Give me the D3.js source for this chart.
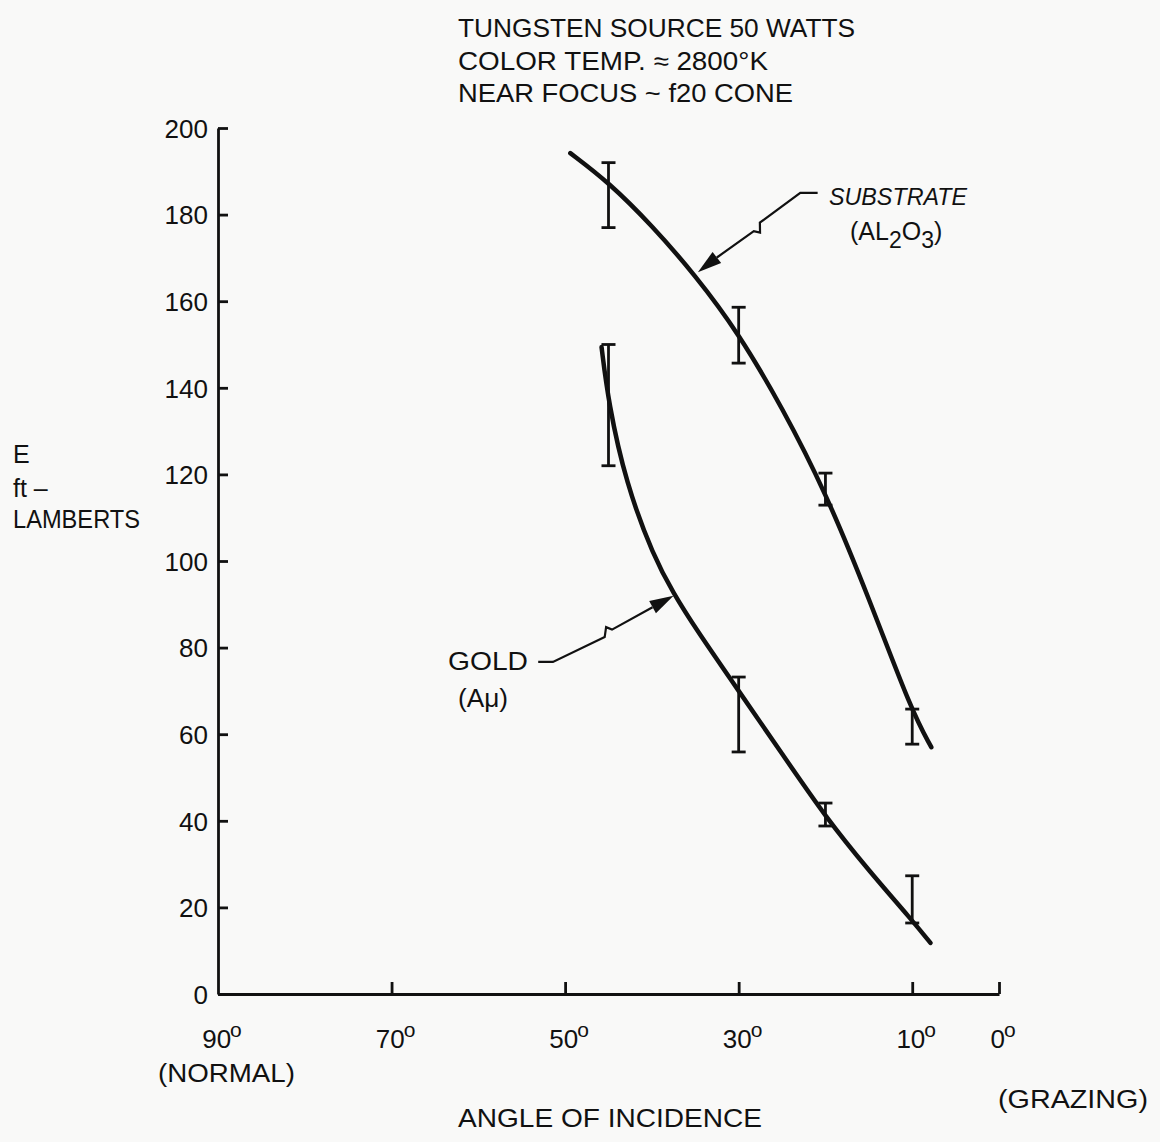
<!doctype html>
<html>
<head>
<meta charset="utf-8"/>
<title>E vs angle of incidence</title>
<script src="https://d3js.org/d3.v7.min.js"></script>
<style>
  body { margin: 0; background: #f9f9f8; }
  text { font-family: "Liberation Sans", Arial, sans-serif; fill: #111; }
</style>
</head>
<body>
<script>
// ---- data (angle in degrees, E in ft-lamberts) ----
var substrateCurve = [[49.4,194.2],[45,187.5],[40,177.5],[35,166],[30,152.6],[25,135.5],[20,116],[15,91.5],[10,65],[7.8,57]];
var goldCurve = [[45.8,149.4],[45,136.5],[43,118],[39.8,101],[37.5,92.5],[35,84.5],[30,70],[25,55.5],[20,40.9],[15,28.5],[10,17],[7.9,11.8]];
// error bars: angle, low, high
var substrateBars = [[45,177,192],[30,145.7,158.6],[20,112.9,120.3],[10,57.7,65.8]];
var goldBars = [[45,122,150],[30,55.9,73.2],[20,38.8,44.1],[10,16.4,27.3]];
var xTicks = [90,70,50,30,10,0];
var yTicks = [0,20,40,60,80,100,120,140,160,180,200];
var titleLines = ["TUNGSTEN SOURCE 50 WATTS", "COLOR TEMP. \u2248 2800\u00B0K", "NEAR FOCUS ~ f20 CONE"];
var titleWidths = [397, 310, 335];
var yLabelLines = ["E", "ft \u2013", "LAMBERTS"];
// annotation arrows: label end, elbow, zigzag, tip (data units)
var substrateArrow = [[20.9,185],[22.9,185],[27.8,176.9],[34.7,166.7]];
var goldArrow = [[53.1,76.7],[51.4,76.7],[45.1,83.6],[37.5,92]];

var W = 1160, H = 1142;
var svg = d3.select("body").append("svg").attr("width", W).attr("height", H);

var x = d3.scaleLinear().domain([90, 0]).range([218, 999]);
var y = d3.scaleLinear().domain([0, 200]).range([994, 128]);

// title
svg.append("g").selectAll("text").data(titleLines).join("text")
  .attr("x", 458).attr("y", function(d, i) { return 37 + i * 32.5; })
  .attr("font-size", 26)
  .attr("textLength", function(d, i) { return titleWidths[i]; })
  .attr("lengthAdjust", "spacingAndGlyphs")
  .text(function(d) { return d; });

// y axis
var yAxis = d3.axisLeft(y).tickValues(yTicks).tickSize(-10).tickSizeOuter(0).tickPadding(10);
var gy = svg.append("g").attr("transform", "translate(218,0)").call(yAxis);
gy.select(".domain").attr("stroke", "#111").attr("stroke-width", 2.8);
gy.selectAll(".tick line").attr("stroke", "#111").attr("stroke-width", 2.8);
gy.selectAll(".tick text").attr("font-size", 26).attr("dy", "0.36em")
  .style("font-family", "Liberation Sans, Arial, sans-serif").attr("fill", "#111");

// x axis
var xAxis = d3.axisBottom(x).tickValues(xTicks.slice(1)).tickSize(-12).tickSizeOuter(0).tickFormat("");
var gx = svg.append("g").attr("transform", "translate(0,994)").call(xAxis);
gx.select(".domain").attr("stroke", "#111").attr("stroke-width", 2.8);
gx.selectAll(".tick line").attr("stroke", "#111").attr("stroke-width", 2.8);

var xl = svg.append("g").selectAll("text").data(xTicks).join("text")
  .attr("x", function(d) { return x(d) + 4; }).attr("y", 1048)
  .attr("text-anchor", "middle").attr("font-size", 26);
xl.append("tspan").text(function(d) { return d; });
xl.append("tspan").attr("dy", -11).attr("dx", -1).attr("font-size", 21).text("o");

svg.append("text").attr("x", 158).attr("y", 1082).attr("font-size", 26)
  .attr("textLength", 137).attr("lengthAdjust", "spacingAndGlyphs").text("(NORMAL)");
svg.append("text").attr("x", 998).attr("y", 1108).attr("font-size", 26)
  .attr("textLength", 150).attr("lengthAdjust", "spacingAndGlyphs").text("(GRAZING)");
svg.append("text").attr("x", 458).attr("y", 1127).attr("font-size", 26)
  .attr("textLength", 304).attr("lengthAdjust", "spacingAndGlyphs").text("ANGLE OF INCIDENCE");

// y label
svg.append("g").selectAll("text").data(yLabelLines).join("text")
  .attr("x", 13).attr("y", function(d, i) { return [463, 497, 528][i]; })
  .attr("font-size", 25)
  .attr("textLength", function(d, i) { return i === 2 ? 127 : null; })
  .attr("lengthAdjust", "spacingAndGlyphs")
  .text(function(d) { return d; });

// curves
var line = d3.line().x(function(d) { return x(d[0]); }).y(function(d) { return y(d[1]); })
  .curve(d3.curveBasis);
[substrateCurve, goldCurve].forEach(function(c) {
  svg.append("path").attr("d", line(c)).attr("fill", "none")
    .attr("stroke", "#111").attr("stroke-width", 4.5).attr("stroke-linecap", "round");
});

// error bars
function errorBars(bars) {
  var g = svg.append("g").attr("stroke", "#111").attr("stroke-width", 2.8);
  g.selectAll(".v").data(bars).join("line")
    .attr("x1", function(d) { return x(d[0]); }).attr("x2", function(d) { return x(d[0]); })
    .attr("y1", function(d) { return y(d[1]); }).attr("y2", function(d) { return y(d[2]); });
  g.selectAll(".lo").data(bars).join("line")
    .attr("x1", function(d) { return x(d[0]) - 7; }).attr("x2", function(d) { return x(d[0]) + 7; })
    .attr("y1", function(d) { return y(d[1]); }).attr("y2", function(d) { return y(d[1]); });
  g.selectAll(".hi").data(bars).join("line")
    .attr("x1", function(d) { return x(d[0]) - 7; }).attr("x2", function(d) { return x(d[0]) + 7; })
    .attr("y1", function(d) { return y(d[2]); }).attr("y2", function(d) { return y(d[2]); });
}
errorBars(substrateBars);
errorBars(goldBars);

// annotation arrows with lightning break
function arrow(pts) {
  var p = pts.map(function(d) { return [x(d[0]), y(d[1])]; });
  var e = p[1], z = p[2], t = p[3];
  var dx = t[0] - e[0], dy = t[1] - e[1], L = Math.sqrt(dx * dx + dy * dy);
  var ux = dx / L, uy = dy / L, nx = -uy, ny = ux;
  var head = 24, hw = 7;
  var b = [t[0] - ux * head, t[1] - uy * head];
  var path = d3.path();
  path.moveTo(p[0][0], p[0][1]);
  path.lineTo(e[0], e[1]);
  path.lineTo(z[0] - ux * 5 + nx * 3, z[1] - uy * 5 + ny * 3);
  path.lineTo(z[0] + ux * 1 - nx * 5, z[1] + uy * 1 - ny * 5);
  path.lineTo(z[0] + ux * 5, z[1] + uy * 5);
  path.lineTo(b[0], b[1]);
  svg.append("path").attr("d", path.toString()).attr("fill", "none")
    .attr("stroke", "#111").attr("stroke-width", 2.2);
  svg.append("path")
    .attr("d", "M" + t[0] + "," + t[1] + "L" + (b[0] + nx * hw) + "," + (b[1] + ny * hw) +
      "L" + (b[0] - nx * hw) + "," + (b[1] - ny * hw) + "Z")
    .attr("fill", "#111");
}
arrow(substrateArrow);
arrow(goldArrow);

// labels
svg.append("text").attr("x", 829).attr("y", 205).attr("font-size", 24)
  .attr("font-style", "italic").attr("textLength", 138).attr("lengthAdjust", "spacingAndGlyphs")
  .text("SUBSTRATE");
var s2 = svg.append("text").attr("x", 850).attr("y", 240).attr("font-size", 25);
s2.append("tspan").text("(AL");
s2.append("tspan").attr("dy", 8).attr("font-size", 23).text("2");
s2.append("tspan").attr("dy", -8).text("O");
s2.append("tspan").attr("dy", 8).attr("font-size", 23).text("3");
s2.append("tspan").attr("dy", -8).text(")");

svg.append("text").attr("x", 448).attr("y", 670).attr("font-size", 26)
  .attr("textLength", 80).attr("lengthAdjust", "spacingAndGlyphs").text("GOLD");
svg.append("text").attr("x", 458).attr("y", 707).attr("font-size", 25)
  .attr("textLength", 50).attr("lengthAdjust", "spacingAndGlyphs").text("(A\u03BC)");
</script>
</body>
</html>
